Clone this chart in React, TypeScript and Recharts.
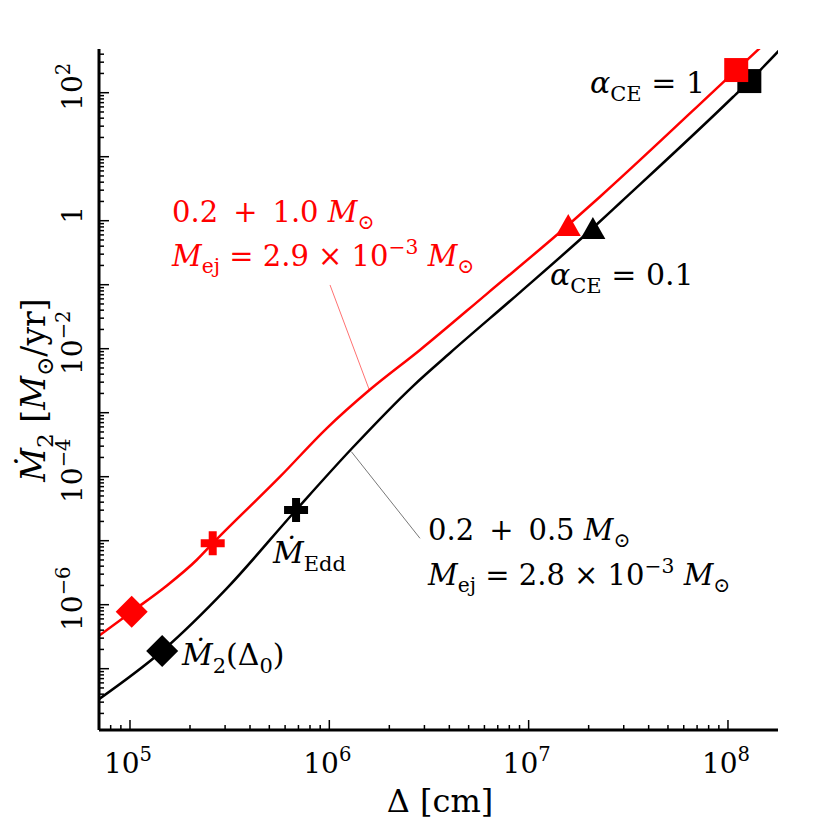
import React from 'react';
import { ComposedChart, Line, Scatter, XAxis, YAxis, ReferenceLine, Customized } from 'recharts';

// curve 0.2 + 0.5 Msun (black)
const blackDelta = [6.9e4, 1.45e5, 3.06e5, 6.81e5, 1.29e6, 2.63e6, 4.03e6, 9.05e6, 2.1e7, 2.87e7, 1.06e8, 1.28e8, 2.07e8];
const blackMdot = [3.25e-8, 1.89e-7, 1.8e-6, 3.02e-5, 2.71e-4, 2.61e-3, 8.57e-3, 7.6e-2, 0.769, 1.89, 85.7, 152, 716];

// curve 0.2 + 1.0 Msun (red)
const redDelta = [6.9e4, 1.02e5, 1.5e5, 2.16e5, 2.6e5, 5.66e5, 9.7e5, 1.59e6, 2.85e6, 6.17e6, 1.58e7, 2.28e7, 1.1e8, 2.05e8];
const redMdot = [3.18e-7, 7.78e-7, 1.89e-6, 4.99e-6, 9.1e-6, 1.0e-4, 5.7e-4, 2.26e-3, 9.55e-3, 7.2e-2, 0.857, 2.37, 226, 1368];

// markers: Mdot_2(Delta_0), Mdot_Edd, alpha_CE = 0.1, alpha_CE = 1
const markerKinds = ['diamond', 'plus', 'triangle', 'square'];
const blackMarkerDelta = [1.45e5, 6.81e5, 2.1e7, 1.28e8];
const blackMarkerMdot = [1.89e-7, 3.02e-5, 0.769, 152];
const redMarkerDelta = [1.02e5, 2.6e5, 1.58e7, 1.1e8];
const redMarkerMdot = [7.78e-7, 9.1e-6, 0.857, 226];

const xDecades = [4, 5, 6, 7, 8];
const yDecades = [-8, -7, -6, -5, -4, -3, -2, -1, 0, 1, 2];
const xLabelExponents = [5, 6, 7, 8];
const yLabelExponents = [2, 0, -2, -4, -6];

const X_DOMAIN = [Math.pow(10, 4.8445), Math.pow(10, 8.251)];
const Y_DOMAIN = [Math.pow(10, -7.958), Math.pow(10, 2.683)];

const SERIF = "'DejaVu Serif', 'Liberation Serif', serif";
const RED = '#ff0000';

const toPoints = (xs: number[], ys: number[]) => xs.map((x, i) => ({ x, y: ys[i] }));
const toMarkers = (xs: number[], ys: number[]) => xs.map((x, i) => ({ x, y: ys[i], kind: markerKinds[i] }));

const blackLine = toPoints(blackDelta, blackMdot);
const redLine = toPoints(redDelta, redMdot);
const blackMarkers = toMarkers(blackMarkerDelta, blackMarkerMdot);
const redMarkers = toMarkers(redMarkerDelta, redMarkerMdot);

const logTicks = (decades: number[], lo: number, hi: number) => {
  const out: number[] = [];
  decades.forEach((d) => {
    for (let m = 1; m <= 9; m++) {
      const v = m * Math.pow(10, d);
      if (v >= lo && v <= hi) out.push(v);
    }
  });
  return out;
};
const xTicks = logTicks(xDecades, X_DOMAIN[0], X_DOMAIN[1]);
const yTicks = logTicks(yDecades, Y_DOMAIN[0], Y_DOMAIN[1]);

const isMajor = (v: number) => {
  const e = Math.log10(v);
  return Math.abs(e - Math.round(e)) < 1e-6;
};

type Part = [string, string];

const MathText = ({ x, y, size, fill = '#000', parts, anchor = 'start', transform }: any) => {
  let cur = 0;
  return (
    <text x={x} y={y} fill={fill} textAnchor={anchor} transform={transform}
      style={{ whiteSpace: 'pre', fontFamily: SERIF, fontSize: size }}>
      {parts.map(([t, k]: Part, i: number) => {
        const off = k === 'sub' ? size * 0.25 : k === 'sup' ? -size * 0.42 : 0;
        const dy = off - cur;
        cur = off;
        const small = k === 'sub' || k === 'sup';
        return (
          <tspan key={i} dy={dy}
            style={{ fontFamily: SERIF, fontSize: small ? size * 0.7 : size, fontStyle: k === 'i' ? 'italic' : 'normal' }}>
            {t}
          </tspan>
        );
      })}
    </text>
  );
};

const powLabel = (e: number): Part[] => (e === 0 ? [['1', 'n']] : [['10', 'n'], [e < 0 ? `\u2212${-e}` : `${e}`, 'sup']]);

const BottomTick = (props: any) => {
  const { x, y, payload } = props;
  const major = isMajor(payload.value);
  const e = Math.round(Math.log10(payload.value));
  return (
    <g>
      <line x1={x} x2={x} y1={y} y2={y - (major ? 10 : 5)} stroke="#000" strokeWidth={1.5} />
      {major && xLabelExponents.includes(e) && (
        <MathText x={x - 2} y={y + 43} size={28} anchor="middle" parts={powLabel(e)} />
      )}
    </g>
  );
};

const TopTick = (props: any) => {
  const { x, y, payload } = props;
  const major = isMajor(payload.value);
  return <line x1={x} x2={x} y1={y} y2={y + (major ? 10 : 5)} stroke="#000" strokeWidth={1.5} />;
};

const LeftTick = (props: any) => {
  const { x, y, payload } = props;
  const major = isMajor(payload.value);
  const e = Math.round(Math.log10(payload.value));
  const lx = x - 17;
  const ly = y - 6;
  return (
    <g>
      <line x1={x} x2={x + (major ? 10 : 5)} y1={y} y2={y} stroke="#000" strokeWidth={1.5} />
      {major && yLabelExponents.includes(e) && (
        <MathText x={lx} y={ly} size={28} anchor="middle" transform={`rotate(-90, ${lx}, ${ly})`} parts={powLabel(e)} />
      )}
    </g>
  );
};

const RightTick = (props: any) => {
  const { x, y, payload } = props;
  const major = isMajor(payload.value);
  return <line x1={x} x2={x - (major ? 10 : 5)} y1={y} y2={y} stroke="#000" strokeWidth={1.5} />;
};

const Marker = (props: any) => {
  const { cx, cy, payload, color } = props;
  if (cx == null || cy == null) return null;
  let pts: number[][] = [];
  if (payload.kind === 'diamond') {
    pts = [[0, -16], [16, 0], [0, 16], [-16, 0]];
  } else if (payload.kind === 'square') {
    pts = [[-12, -12], [12, -12], [12, 12], [-12, 12]];
  } else if (payload.kind === 'triangle') {
    pts = [[0, -11], [12.5, 11], [-12.5, 11]];
  } else {
    const a = 12;
    const b = 4;
    pts = [[-b, -a], [b, -a], [b, -b], [a, -b], [a, b], [b, b], [b, a], [-b, a], [-b, b], [-a, b], [-a, -b], [-b, -b]];
  }
  return <polygon points={pts.map(([px, py]) => `${cx + px},${cy + py}`).join(' ')} fill={color} />;
};

const Annotations = () => (
  <g>
    <MathText x={164} y={214} size={29} fill={RED}
      parts={[['0.2\u2009 + \u20091.0 ', 'n'], ['M', 'i'], ['\u2299', 'sub']]} />
    <MathText x={164} y={258} size={29} fill={RED}
      parts={[['M', 'i'], ['ej', 'sub'], [' = 2.9 \u00d7 10', 'n'], ['\u22123', 'sup'], [' ', 'n'], ['M', 'i'], ['\u2299', 'sub']]} />
    <MathText x={420} y={532} size={29}
      parts={[['0.2\u2009 + \u20090.5 ', 'n'], ['M', 'i'], ['\u2299', 'sub']]} />
    <MathText x={420} y={577} size={29}
      parts={[['M', 'i'], ['ej', 'sub'], [' = 2.8 \u00d7 10', 'n'], ['\u22123', 'sup'], [' ', 'n'], ['M', 'i'], ['\u2299', 'sub']]} />
    <MathText x={265} y={555} size={30} parts={[['\u1e40', 'i'], ['Edd', 'sub']]} />
    <MathText x={174} y={657} size={30} parts={[['\u1e40', 'i'], ['2', 'sub'], ['(\u0394', 'n'], ['0', 'sub'], [')', 'n']]} />
    <MathText x={582} y={85} size={30} parts={[['\u03b1', 'i'], ['CE', 'sub'], [' = 1', 'n']]} />
    <MathText x={542} y={277} size={30} parts={[['\u03b1', 'i'], ['CE', 'sub'], [' = 0.1', 'n']]} />
    <MathText x={432} y={804} size={32} anchor="middle" parts={[['\u0394 [cm]', 'n']]} />
    <MathText x={37} y={382} size={33} anchor="middle" transform="rotate(-90, 37, 382)"
      parts={[['\u1e40', 'i'], ['2', 'sub'], [' [', 'n'], ['M', 'i'], ['\u2299', 'sub'], ['/yr]', 'n']]} />
  </g>
);

const App = () => (
  <ComposedChart width={822} height={822} margin={{ top: 41, right: 52, bottom: 0, left: 0 }}>
    <XAxis xAxisId="bottom" dataKey="x" type="number" scale="log" domain={X_DOMAIN} allowDataOverflow
      ticks={xTicks} interval={0} tick={BottomTick} tickLine={false} tickSize={0} tickMargin={0} height={100}
      axisLine={{ stroke: '#000', strokeWidth: 3 }} />
    <XAxis xAxisId="top" orientation="top" dataKey="x" type="number" scale="log" domain={X_DOMAIN} allowDataOverflow
      ticks={xTicks} interval={0} tick={TopTick} tickLine={false} tickSize={0} tickMargin={0} height={0}
      axisLine={{ stroke: '#000', strokeWidth: 3 }} />
    <YAxis yAxisId="left" dataKey="y" type="number" scale="log" domain={Y_DOMAIN} allowDataOverflow
      ticks={yTicks} interval={0} tick={LeftTick} tickLine={false} tickSize={0} tickMargin={0} width={91}
      axisLine={{ stroke: '#000', strokeWidth: 3 }} />
    <YAxis yAxisId="right" orientation="right" dataKey="y" type="number" scale="log" domain={Y_DOMAIN} allowDataOverflow
      ticks={yTicks} interval={0} tick={RightTick} tickLine={false} tickSize={0} tickMargin={0} width={0}
      axisLine={{ stroke: '#000', strokeWidth: 3 }} />
    <ReferenceLine xAxisId="bottom" yAxisId="left" stroke="#555" strokeWidth={0.8}
      segment={[{ x: 1.29e6, y: 2.46e-4 }, { x: 2.85e6, y: 1.09e-5 }]} />
    <ReferenceLine xAxisId="bottom" yAxisId="left" stroke={RED} strokeWidth={0.8} strokeOpacity={0.7}
      segment={[{ x: 1.008e6, y: 9.9e-2 }, { x: 1.588e6, y: 2.26e-3 }]} />
    <Line xAxisId="bottom" yAxisId="left" data={blackLine} dataKey="y" type="monotone" stroke="#000"
      strokeWidth={2.5} dot={false} isAnimationActive={false} />
    <Scatter xAxisId="bottom" yAxisId="left" data={blackMarkers} dataKey="y" isAnimationActive={false}
      shape={(p: any) => <Marker {...p} color="#000" />} />
    <Line xAxisId="bottom" yAxisId="left" data={redLine} dataKey="y" type="monotone" stroke={RED}
      strokeWidth={2.5} dot={false} isAnimationActive={false} />
    <Scatter xAxisId="bottom" yAxisId="left" data={redMarkers} dataKey="y" isAnimationActive={false}
      shape={(p: any) => <Marker {...p} color={RED} />} />
    <Customized component={Annotations} />
  </ComposedChart>
);

export default App;
